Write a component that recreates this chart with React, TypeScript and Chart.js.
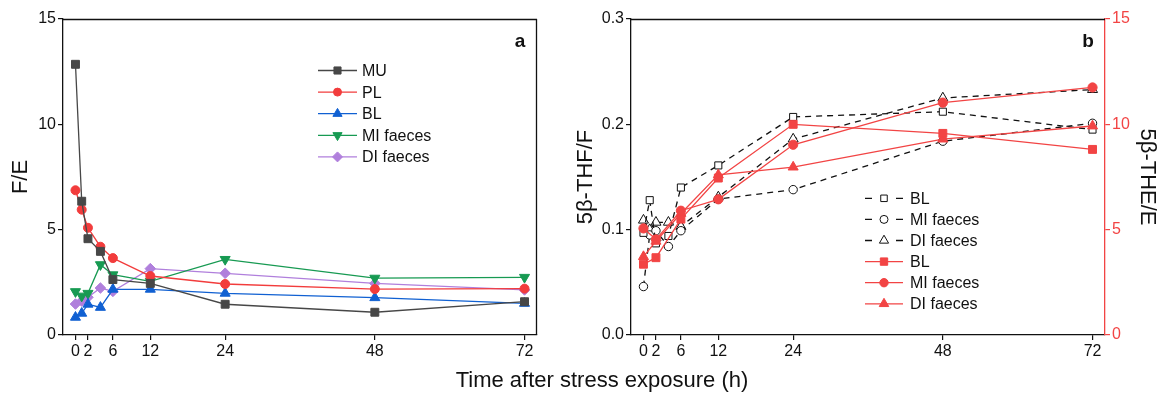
import React, { useEffect, useRef } from 'react';
import { Chart, registerables } from 'chart.js';

Chart.register(...registerables);

// ---------- data ----------
const times = [0, 1, 2, 4, 6, 12, 24, 48, 72];
const redTimes = [0, 2, 6, 12, 24, 48, 72];
const xTickValues = [0, 2, 6, 12, 24, 48, 72];
const leftYTicks = [0, 5, 10, 15];
const rightYTicks = [0, 0.1, 0.2, 0.3];
const rightY1Ticks = [0, 5, 10, 15];

// Panel a: F/E
const muFE = [12.85, 6.35, 4.57, 3.97, 2.63, 2.45, 1.46, 1.08, 1.58];
const plFE = [6.87, 5.95, 5.09, 4.19, 3.65, 2.8, 2.42, 2.18, 2.2];
const blFE = [0.84, 1.03, 1.46, 1.31, 2.17, 2.17, 1.98, 1.77, 1.5];
const miFE = [2.06, 1.85, 1.98, 3.34, 2.86, 2.55, 3.59, 2.7, 2.74];
const diFE = [1.47, 1.61, 1.79, 2.23, 2.07, 3.15, 2.93, 2.45, 2.14];

// Panel b: 5β-THF/F (left axis, hollow)
const blTHF = [0.097, 0.128, 0.087, 0.094, 0.14, 0.161, 0.207, 0.212, 0.195];
const miTHF = [0.046, 0.095, 0.099, 0.084, 0.099, 0.129, 0.138, 0.184, 0.201];
const diTHF = [0.109, 0.1, 0.107, 0.107, 0.103, 0.131, 0.186, 0.225, 0.233];

// Panel b: 5β-THE/E (right axis, red)
const blTHE = [3.36, 3.67, 5.5, 7.45, 10.0, 9.57, 8.81];
const miTHE = [5.06, 4.54, 5.9, 6.44, 9.03, 11.03, 11.75];
const diTHE = [3.72, 4.45, 5.77, 7.6, 7.97, 9.3, 9.92];

// ---------- styling ----------
const FONT = "'Liberation Sans', Arial, sans-serif";
const INK = '#111111';
const C_MU = '#474747';
const C_PL = '#f23c3c';
const C_BL = '#1060d2';
const C_MI = '#179a52';
const C_DI = '#b07fdc';
const C_RED = '#f24444';

const pts = (ts: number[], vs: number[]) => ts.map((t, i) => ({ x: t, y: vs[i] }));

function markerPath(ctx: CanvasRenderingContext2D, style: string, x: number, y: number, r: number, rotDeg: number) {
  let rad = (rotDeg * Math.PI) / 180;
  if (style === 'rect') {
    const s = Math.SQRT1_2 * r;
    ctx.rect(x - s, y - s, 2 * s, 2 * s);
  } else if (style === 'circle') {
    ctx.arc(x, y, r, 0, Math.PI * 2);
  } else if (style === 'triangle') {
    for (let k = 0; k < 3; k++) {
      const px = x + Math.sin(rad) * r;
      const py = y - Math.cos(rad) * r;
      if (k === 0) ctx.moveTo(px, py);
      else ctx.lineTo(px, py);
      rad += (2 * Math.PI) / 3;
    }
    ctx.closePath();
  } else if (style === 'rectRot') {
    ctx.moveTo(x - r, y);
    ctx.lineTo(x, y - r);
    ctx.lineTo(x + r, y);
    ctx.lineTo(x, y + r);
    ctx.closePath();
  }
}

type LegItem = { text: string; style: string; rot?: number; r: number; color: string; fill: string; dashed?: boolean };
type LegCfg = { x0: number; x1: number; tx: number; y0: number; dy: number };

function legendPlugin(id: string, items: LegItem[], cfg: LegCfg) {
  return {
    id,
    afterDatasetsDraw(chart: any) {
      const ctx: CanvasRenderingContext2D = chart.ctx;
      ctx.save();
      items.forEach((it, i) => {
        const y = cfg.y0 + i * cfg.dy;
        ctx.strokeStyle = it.color;
        ctx.lineWidth = 1.3;
        ctx.setLineDash([]);
        ctx.beginPath();
        if (it.dashed) {
          ctx.moveTo(cfg.x0, y);
          ctx.lineTo(cfg.x0 + 7, y);
          ctx.moveTo(cfg.x1 - 7, y);
          ctx.lineTo(cfg.x1, y);
        } else {
          ctx.moveTo(cfg.x0, y);
          ctx.lineTo(cfg.x1, y);
        }
        ctx.stroke();
        const mx = (cfg.x0 + cfg.x1) / 2;
        ctx.beginPath();
        markerPath(ctx, it.style, mx, y, it.r, it.rot || 0);
        ctx.fillStyle = it.fill;
        ctx.fill();
        ctx.lineWidth = 1;
        ctx.strokeStyle = it.color;
        ctx.stroke();
        ctx.fillStyle = INK;
        ctx.font = `16px ${FONT}`;
        ctx.textBaseline = 'middle';
        ctx.textAlign = 'left';
        ctx.fillText(it.text, cfg.tx, y + 1);
      });
      ctx.restore();
    },
  };
}

function framePlugin(id: string, drawRight: boolean, letter: string, lx: number, ly: number) {
  return {
    id,
    afterDraw(chart: any) {
      const ctx: CanvasRenderingContext2D = chart.ctx;
      const a = chart.chartArea;
      ctx.save();
      ctx.strokeStyle = INK;
      ctx.lineWidth = 1.3;
      ctx.beginPath();
      const top = Math.round(a.top) + 0.5;
      ctx.moveTo(a.left, top);
      ctx.lineTo(a.right, top);
      if (drawRight) {
        const r = Math.round(a.right) - 0.5;
        ctx.moveTo(r, a.top);
        ctx.lineTo(r, a.bottom);
      }
      ctx.stroke();
      ctx.fillStyle = INK;
      ctx.font = `bold 19px ${FONT}`;
      ctx.textAlign = 'center';
      ctx.textBaseline = 'alphabetic';
      ctx.fillText(letter, lx, ly);
      ctx.restore();
    },
  };
}

const tickFont = { family: FONT, size: 16 };
const gridOpts = (color: string) => ({
  display: true,
  drawOnChartArea: false,
  drawTicks: true,
  tickLength: 5,
  color,
  lineWidth: 1.2,
});
const borderOpts = (color: string) => ({ display: true, color, width: 1.3 });

const xScale = () => ({
  type: 'linear',
  min: -2,
  max: 74,
  afterBuildTicks: (axis: any) => {
    axis.ticks = xTickValues.map((v) => ({ value: v }));
  },
  afterFit: (s: any) => {
    s.height = 58;
  },
  ticks: { font: tickFont, color: INK, autoSkip: false, maxRotation: 0, padding: 2 },
  grid: gridOpts(INK),
  border: borderOpts(INK),
});

const lineDs = (label: string, data: any[], color: string, style: string, r: number, rot = 0, extra: any = {}) => ({
  label,
  data,
  borderColor: color,
  backgroundColor: color,
  borderWidth: 1.3,
  pointStyle: style,
  pointRotation: rot,
  pointRadius: r,
  pointBackgroundColor: color,
  pointBorderColor: color,
  pointBorderWidth: 1,
  tension: 0,
  fill: false,
  ...extra,
});

function leftConfig(): any {
  return {
    type: 'line',
    data: {
      datasets: [
        lineDs('MU', pts(times, muFE), C_MU, 'rect', 5.6),
        lineDs('PL', pts(times, plFE), C_PL, 'circle', 4.5),
        lineDs('BL', pts(times, blFE), C_BL, 'triangle', 5.8),
        lineDs('MI faeces', pts(times, miFE), C_MI, 'triangle', 5.8, 180),
        lineDs('DI faeces', pts(times, diFE), C_DI, 'rectRot', 5.3),
      ],
    },
    options: {
      responsive: false,
      animation: false,
      devicePixelRatio: 1,
      layout: { padding: { top: 19, right: 8, left: 0, bottom: 0 } },
      plugins: { legend: { display: false }, tooltip: { enabled: false } },
      scales: {
        x: xScale(),
        y: {
          type: 'linear',
          min: 0,
          max: 15,
          afterBuildTicks: (axis: any) => {
            axis.ticks = leftYTicks.map((v) => ({ value: v }));
          },
          afterFit: (s: any) => {
            s.width = 63;
          },
          ticks: { font: tickFont, color: INK, padding: 2 },
          grid: gridOpts(INK),
          border: borderOpts(INK),
          title: {
            display: true,
            text: 'F/E',
            color: INK,
            font: { family: FONT, size: 22 },
            padding: { top: 8, bottom: 0 },
          },
        },
      },
    },
    plugins: [
      legendPlugin(
        'legA',
        [
          { text: 'MU', style: 'rect', r: 5, color: C_MU, fill: C_MU },
          { text: 'PL', style: 'circle', r: 4, color: C_PL, fill: C_PL },
          { text: 'BL', style: 'triangle', r: 5.3, color: C_BL, fill: C_BL },
          { text: 'MI faeces', style: 'triangle', rot: 180, r: 5.3, color: C_MI, fill: C_MI },
          { text: 'DI faeces', style: 'rectRot', r: 5, color: C_DI, fill: C_DI },
        ],
        { x0: 318, x1: 357, tx: 362, y0: 70.5, dy: 21.6 }
      ),
      framePlugin('frameA', true, 'a', 520, 47),
    ],
  };
}

function rightConfig(): any {
  const hollow = { pointBackgroundColor: '#ffffff', pointBorderColor: INK, borderColor: INK, borderDash: [6, 5], borderWidth: 1.3 };
  return {
    type: 'line',
    data: {
      datasets: [
        lineDs('BL', pts(redTimes, blTHE), C_RED, 'rect', 5.6, 0, { yAxisID: 'y1' }),
        lineDs('MI faeces', pts(redTimes, miTHE), C_RED, 'circle', 4.6, 0, { yAxisID: 'y1' }),
        lineDs('DI faeces', pts(redTimes, diTHE), C_RED, 'triangle', 5.8, 0, { yAxisID: 'y1' }),
        lineDs('BL', pts(times, blTHF), INK, 'rect', 5, 0, { yAxisID: 'y', ...hollow }),
        lineDs('MI faeces', pts(times, miTHF), INK, 'circle', 4.2, 0, { yAxisID: 'y', ...hollow }),
        lineDs('DI faeces', pts(times, diTHF), INK, 'triangle', 5.8, 0, { yAxisID: 'y', ...hollow }),
      ],
    },
    options: {
      responsive: false,
      animation: false,
      devicePixelRatio: 1,
      layout: { padding: { top: 19, right: 0, left: 0, bottom: 0 } },
      plugins: { legend: { display: false }, tooltip: { enabled: false } },
      scales: {
        x: xScale(),
        y: {
          type: 'linear',
          position: 'left',
          min: 0,
          max: 0.3,
          afterBuildTicks: (axis: any) => {
            axis.ticks = rightYTicks.map((v) => ({ value: v }));
          },
          afterFit: (s: any) => {
            s.width = 86;
          },
          ticks: { font: tickFont, color: INK, padding: 2, callback: (v: any) => Number(v).toFixed(1) },
          grid: gridOpts(INK),
          border: borderOpts(INK),
          title: {
            display: true,
            text: '5β-THF/F',
            color: INK,
            font: { family: FONT, size: 22 },
            padding: { top: 28, bottom: 0 },
          },
        },
        y1: {
          type: 'linear',
          position: 'right',
          min: 0,
          max: 15,
          afterBuildTicks: (axis: any) => {
            axis.ticks = rightY1Ticks.map((v) => ({ value: v }));
          },
          afterFit: (s: any) => {
            s.width = 53;
          },
          ticks: { font: tickFont, color: C_RED, padding: 2 },
          grid: gridOpts(C_RED),
          border: borderOpts(C_RED),
          title: {
            display: true,
            text: '5β-THE/E',
            color: INK,
            font: { family: FONT, size: 22, lineHeight: 1 },
            padding: { top: 0, bottom: 0 },
          },
        },
      },
    },
    plugins: [
      legendPlugin(
        'legB',
        [
          { text: 'BL', style: 'rect', r: 4.6, color: INK, fill: '#ffffff', dashed: true },
          { text: 'MI faeces', style: 'circle', r: 4, color: INK, fill: '#ffffff', dashed: true },
          { text: 'DI faeces', style: 'triangle', r: 5.3, color: INK, fill: '#ffffff', dashed: true },
          { text: 'BL', style: 'rect', r: 5.2, color: C_RED, fill: C_RED },
          { text: 'MI faeces', style: 'circle', r: 4.2, color: C_RED, fill: C_RED },
          { text: 'DI faeces', style: 'triangle', r: 5.5, color: C_RED, fill: C_RED },
        ],
        { x0: 320, x1: 358, tx: 365, y0: 198.3, dy: 21.1 }
      ),
      framePlugin('frameB', false, 'b', 543, 47),
    ],
  };
}

export default function App() {
  const leftRef = useRef<HTMLCanvasElement>(null);
  const rightRef = useRef<HTMLCanvasElement>(null);

  useEffect(() => {
    document.body.style.margin = '0';
    const c1 = new Chart(leftRef.current as HTMLCanvasElement, leftConfig());
    const c2 = new Chart(rightRef.current as HTMLCanvasElement, rightConfig());
    return () => {
      c1.destroy();
      c2.destroy();
    };
  }, []);

  return (
    <div
      style={{
        position: 'fixed',
        left: 0,
        top: 0,
        width: 1158,
        height: 393,
        background: '#ffffff',
        overflow: 'hidden',
      }}
    >
      <canvas
        ref={leftRef}
        width={545}
        height={393}
        style={{ position: 'absolute', left: 0, top: 0, width: 545, height: 393 }}
      />
      <canvas
        ref={rightRef}
        width={613}
        height={393}
        style={{ position: 'absolute', left: 545, top: 0, width: 613, height: 393 }}
      />
      <div
        style={{
          position: 'absolute',
          left: 402,
          top: 369,
          width: 400,
          textAlign: 'center',
          fontFamily: FONT,
          fontSize: 22,
          lineHeight: '22px',
          color: INK,
          whiteSpace: 'nowrap',
        }}
      >
        Time after stress exposure (h)
      </div>
    </div>
  );
}
